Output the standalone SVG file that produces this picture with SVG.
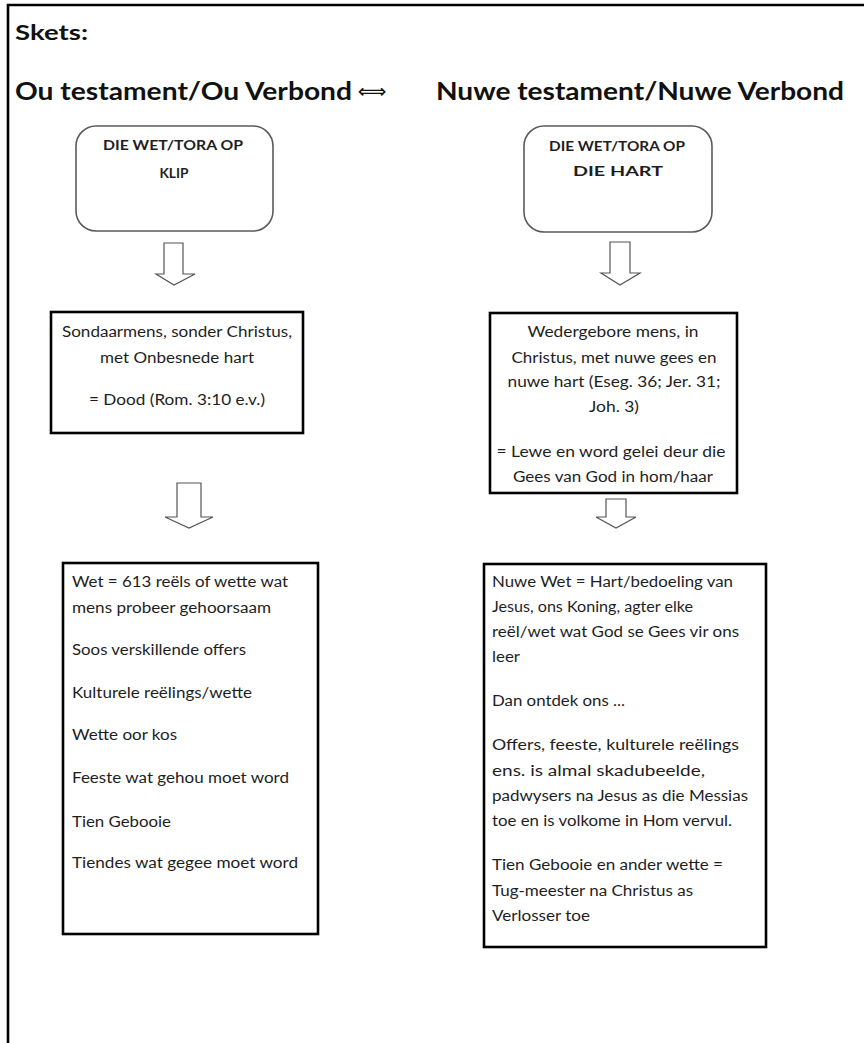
<svg xmlns="http://www.w3.org/2000/svg" width="864" height="1043" viewBox="0 0 864 1043">
<style>
.t{font-family:Lato,"Liberation Sans",sans-serif;font-size:14.5px;fill:#1e1e1e}
.c{text-anchor:middle}
.h{font-family:Lato,"Liberation Sans",sans-serif;font-weight:bold;fill:#111}
.rb{fill:#fff;stroke:#5a5a5a;stroke-width:1.6}
.bx{fill:#fff;stroke:#000;stroke-width:2.6}
.ar{fill:#fff;stroke:#555;stroke-width:1.2;stroke-linejoin:miter}
.bt{font-family:Lato,"Liberation Sans",sans-serif;font-weight:bold;font-size:14px;fill:#1e1e1e;text-anchor:middle}
</style>
<rect width="864" height="1043" fill="#fff"/>
<g id="frame">
<path d="M8,1043 V5 H864" fill="none" stroke="#000" stroke-width="2.6"/>
</g>
<g id="titles">
<text class="h" x="15" y="40" font-size="21" textLength="73" lengthAdjust="spacingAndGlyphs">Skets:</text>
<text class="h" x="15" y="100" font-size="24" textLength="337" lengthAdjust="spacingAndGlyphs">Ou testament/Ou Verbond</text>
<text x="372" y="98" font-family="DejaVu Sans,sans-serif" font-size="20" fill="#111" text-anchor="middle">⟺</text>
<text class="h" x="436" y="100" font-size="24" textLength="408" lengthAdjust="spacingAndGlyphs">Nuwe testament/Nuwe Verbond</text>
</g>
<g id="connectors">
<polygon class="ar" points="164,243 183,243 183,274 195,274 174,285 156,274 164,274"/>
<polygon class="ar" points="610,242 630,242 630,273 640,273 620,285 601,273 610,273"/>
<polygon class="ar" points="177,483 201,483 201,517 213,517 189,528 165,517 177,517"/>
<polygon class="ar" points="606,499 626,499 626,517 636,517 616,528 596,517 606,517"/>
</g>
<g id="tora-klip">
<rect class="rb" x="76" y="126" width="197" height="105" rx="20"/>
<text class="bt" x="173" y="150" textLength="140" lengthAdjust="spacingAndGlyphs">DIE WET/TORA OP</text>
<text class="bt" x="174" y="178" textLength="29" lengthAdjust="spacingAndGlyphs">KLIP</text>
</g>
<g id="tora-hart">
<rect class="rb" x="524" y="126" width="188" height="106" rx="20"/>
<text class="bt" x="617" y="151" textLength="136" lengthAdjust="spacingAndGlyphs">DIE WET/TORA OP</text>
<text class="bt" x="618" y="176" textLength="90" lengthAdjust="spacingAndGlyphs">DIE HART</text>
</g>
<g id="sondaarmens">
<rect class="bx" x="51" y="312" width="252" height="121"/>
<text class="t c" x="177" y="337" textLength="230" lengthAdjust="spacingAndGlyphs">Sondaarmens, sonder Christus,</text>
<text class="t c" x="177" y="363" textLength="154" lengthAdjust="spacingAndGlyphs">met Onbesnede hart</text>
<text class="t c" x="177" y="405" textLength="176" lengthAdjust="spacingAndGlyphs">= Dood (Rom. 3:10 e.v.)</text>
</g>
<g id="wedergebore">
<rect class="bx" x="490" y="313" width="247" height="180"/>
<text class="t c" x="613" y="337" textLength="171" lengthAdjust="spacingAndGlyphs">Wedergebore mens, in</text>
<text class="t c" x="614" y="363" textLength="205" lengthAdjust="spacingAndGlyphs">Christus, met nuwe gees en</text>
<text class="t c" x="614" y="387" textLength="213" lengthAdjust="spacingAndGlyphs">nuwe hart (Eseg. 36; Jer. 31;</text>
<text class="t c" x="614" y="412" textLength="50" lengthAdjust="spacingAndGlyphs">Joh. 3)</text>
<text class="t c" x="611" y="457" textLength="229" lengthAdjust="spacingAndGlyphs">= Lewe en word gelei deur die</text>
<text class="t c" x="613" y="482" textLength="200" lengthAdjust="spacingAndGlyphs">Gees van God in hom/haar</text>
</g>
<g id="ou-wet">
<rect class="bx" x="63" y="563" width="255" height="371"/>
<text class="t" x="72" y="587" textLength="216" lengthAdjust="spacingAndGlyphs">Wet = 613 reëls of wette wat</text>
<text class="t" x="72" y="613" textLength="199" lengthAdjust="spacingAndGlyphs">mens probeer gehoorsaam</text>
<text class="t" x="72" y="655" textLength="174" lengthAdjust="spacingAndGlyphs">Soos verskillende offers</text>
<text class="t" x="72" y="698" textLength="180" lengthAdjust="spacingAndGlyphs">Kulturele reëlings/wette</text>
<text class="t" x="72" y="740" textLength="105" lengthAdjust="spacingAndGlyphs">Wette oor kos</text>
<text class="t" x="72" y="783" textLength="217" lengthAdjust="spacingAndGlyphs">Feeste wat gehou moet word</text>
<text class="t" x="72" y="827" textLength="99" lengthAdjust="spacingAndGlyphs">Tien Gebooie</text>
<text class="t" x="72" y="868" textLength="226" lengthAdjust="spacingAndGlyphs">Tiendes wat gegee moet word</text>
</g>
<g id="nuwe-wet">
<rect class="bx" x="484" y="564" width="282" height="383"/>
<text class="t" x="492" y="587" textLength="241" lengthAdjust="spacingAndGlyphs">Nuwe Wet = Hart/bedoeling van</text>
<text class="t" x="492" y="612" textLength="201" lengthAdjust="spacingAndGlyphs">Jesus, ons Koning, agter elke</text>
<text class="t" x="492" y="637" textLength="247" lengthAdjust="spacingAndGlyphs">reël/wet wat God se Gees vir ons</text>
<text class="t" x="492" y="662" textLength="28" lengthAdjust="spacingAndGlyphs">leer</text>
<text class="t" x="492" y="706" textLength="133" lengthAdjust="spacingAndGlyphs">Dan ontdek ons ...</text>
<text class="t" x="492" y="750" textLength="247" lengthAdjust="spacingAndGlyphs">Offers, feeste, kulturele reëlings</text>
<text class="t" x="492" y="776" textLength="213" lengthAdjust="spacingAndGlyphs">ens. is almal skadubeelde,</text>
<text class="t" x="492" y="801" textLength="256" lengthAdjust="spacingAndGlyphs">padwysers na Jesus as die Messias</text>
<text class="t" x="492" y="826" textLength="240" lengthAdjust="spacingAndGlyphs">toe en is volkome in Hom vervul.</text>
<text class="t" x="492" y="870" textLength="231" lengthAdjust="spacingAndGlyphs">Tien Gebooie en ander wette =</text>
<text class="t" x="492" y="896" textLength="201" lengthAdjust="spacingAndGlyphs">Tug-meester na Christus as</text>
<text class="t" x="492" y="921" textLength="98" lengthAdjust="spacingAndGlyphs">Verlosser toe</text>
</g>
</svg>
